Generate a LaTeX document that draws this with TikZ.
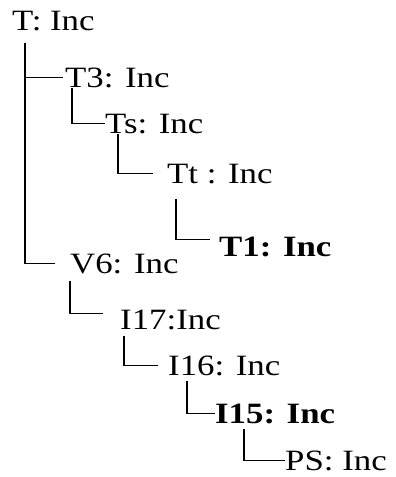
\documentclass[tikz,border=0pt]{standalone}
\usepackage{fontspec}
\setmainfont{Liberation Serif}[FakeStretch=1.18]
\begin{document}
\begin{tikzpicture}[
		x=1pt, y=-1pt,
		every node/.style={inner sep=0pt, anchor=base west, font=\fontsize{29.5}{30}\selectfont},
		branch/.style={line width=1.3pt}
		]
		\useasboundingbox (0,0) rectangle (396,477);
		% Root
		\node (t) at (12,30) {T: Inc};
		% First branch
		\node (t3) at (65,87) {T3: Inc};
		\node (ts) at (105,133) {Ts: Inc};
		\node (tt) at (167,183) {Tt : Inc};
		\node (t1) at (219,256) {\bfseries T1: Inc};
		% Second branch
		\node (v6) at (70,273) {V6: Inc};
		\node (i17) at (120,329) {I17:Inc};
		\node (i16) at (168,375) {I16: Inc};
		\node (i15) at (215,423) {\bfseries I15: Inc};
		\node (ps) at (285,470) {PS: Inc};
		
		% Elbow lines
		\draw[branch] ([xshift=13pt,yshift=-12pt]t.south west) |- ([xshift=-2pt]t3.west);
		\draw[branch] ([xshift=13pt,yshift=-12pt]t.south west) |- ([xshift=-15pt]v6.west);
		\draw[branch] ([xshift=7pt]t3.south west) |- (ts.west);
		\draw[branch] ([xshift=13pt]ts.south west) |- ([xshift=-14pt]tt.west);
		\draw[branch] ([xshift=9pt,yshift=-15pt]tt.south west) |- ([xshift=-9pt,yshift=7pt]t1.west);
		\draw[branch] ([yshift=-7pt]v6.south west) |- ([xshift=-17pt,yshift=6pt]i17.west);
		\draw[branch] ([xshift=4pt,yshift=-6pt]i17.south west) |- ([xshift=-10pt]i16.west);
		\draw[branch] ([xshift=19pt,yshift=-5pt]i16.south west) |- (i15.west);
		\draw[branch] ([xshift=29pt,yshift=-5pt]i15.south west) |- (ps.west);
	\end{tikzpicture}
\end{document}
